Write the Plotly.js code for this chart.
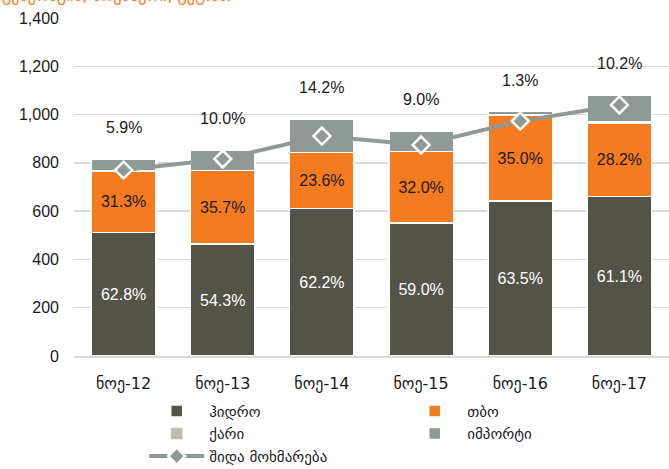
<!DOCTYPE html>
<html>
<head>
<meta charset="utf-8">
<script src="https://cdn.plot.ly/plotly-3.0.1.min.js"></script>
<style>
  html, body { margin: 0; padding: 0; background: #fff; }
  #chart { width: 669px; height: 469px; }
</style>
</head>
<body>
<div id="chart"></div>
<script>
// categories (November of each year)
var months = ['ნოე-12', 'ნოე-13', 'ნოე-14', 'ნოე-15', 'ნოე-16', 'ნოე-17'];

// generation by source, mln kWh
var hydro = [512, 463, 611, 550, 643, 660];
var thermal = [255, 305, 232, 298, 354, 305];
var wind = [0, 0, 0, 0, 2, 5];
var imports = [48, 85, 139, 84, 13, 110];

// domestic consumption
var consumption = [770, 816, 911, 874, 973, 1040];

// share labels
var hydroPct = ['62.8%', '54.3%', '62.2%', '59.0%', '63.5%', '61.1%'];
var thermalPct = ['31.3%', '35.7%', '23.6%', '32.0%', '35.0%', '28.2%'];
var importPct = ['5.9%', '10.0%', '14.2%', '9.0%', '1.3%', '10.2%'];

var font = 'Liberation Sans, Arial, DejaVu Sans, sans-serif';
var edge = { color: '#ffffff', width: 1.5 };

var data = [
  {
    type: 'bar', name: 'ჰიდრო', x: months, y: hydro,
    marker: { color: '#545348', line: edge },
    text: hydroPct, textposition: 'inside', insidetextanchor: 'middle',
    textfont: { color: '#ffffff', size: 16, family: font },
    hoverinfo: 'skip'
  },
  {
    type: 'bar', name: 'თბო', x: months, y: thermal,
    marker: { color: '#f47b20', line: edge },
    text: thermalPct, textposition: 'inside', insidetextanchor: 'middle',
    textfont: { color: '#1a1a1a', size: 16, family: font },
    hoverinfo: 'skip'
  },
  {
    type: 'bar', name: 'ქარი', x: months, y: wind,
    marker: { color: '#bfbbb3', line: { color: '#ffffff', width: 0.5 } },
    hoverinfo: 'skip'
  },
  {
    type: 'bar', name: 'იმპორტი', x: months, y: imports,
    marker: { color: '#8f9a97', line: edge },
    hoverinfo: 'skip'
  },
  {
    type: 'scatter', mode: 'lines+markers', name: 'შიდა მოხმარება',
    x: months, y: consumption,
    line: { color: '#8f9a97', width: 4 },
    marker: { symbol: 'diamond', size: 13, color: '#8f9a97', line: { color: '#ffffff', width: 2.5 } },
    hoverinfo: 'skip'
  }
];

// import share written above each stack
var annotations = months.map(function (m, i) {
  var total = hydro[i] + thermal[i] + wind[i] + imports[i];
  return {
    x: m, y: total, xref: 'x', yref: 'y', yanchor: 'bottom',
    yshift: 21, text: importPct[i], showarrow: false,
    font: { size: 16, color: '#1a1a1a', family: font }
  };
});

annotations.push({
  xref: 'paper', yref: 'paper', x: -0.125, y: 1, xanchor: 'left', yanchor: 'bottom',
  yshift: 11, text: 'გენერაცია, ნოემბერი, გვტ.სთ', showarrow: false,
  font: { size: 16, color: '#f47b20', family: 'DejaVu Sans, sans-serif' }
});

var layout = {
  width: 669, height: 469,
  margin: { l: 74, r: 0, t: 18, b: 113, autoexpand: false },
  paper_bgcolor: '#ffffff', plot_bgcolor: '#ffffff',
  barmode: 'stack', bargap: 0.35,
  font: { family: font, size: 16, color: '#1a1a1a' },
  showlegend: true,
  legend: {
    orientation: 'h', x: 0.118, xanchor: 'left', y: -0.115, yanchor: 'top',
    itemwidth: 55, entrywidth: 188, entrywidthmode: 'pixels', tracegroupgap: 0,
    font: { size: 15, family: 'DejaVu Sans, sans-serif', color: '#1a1a1a' },
    traceorder: 'normal'
  },
  xaxis: {
    type: 'category', showgrid: false, zeroline: false,
    showline: true, linecolor: '#d9d9d9', linewidth: 1.5,
    ticks: '', ticklabelstandoff: 12,
    tickfont: { size: 16, family: 'DejaVu Sans, Liberation Sans, sans-serif' }
  },
  yaxis: {
    range: [0, 1400], dtick: 200, tickformat: ',d',
    showgrid: true, gridcolor: '#d9d9d9', gridwidth: 1.5,
    zeroline: false, showline: false, ticks: '',
    ticklabelstandoff: 14,
    tickfont: { size: 16, family: font }
  },
  annotations: annotations
};

Plotly.newPlot('chart', data, layout, { displayModeBar: false, staticPlot: true });
</script>
</body>
</html>
